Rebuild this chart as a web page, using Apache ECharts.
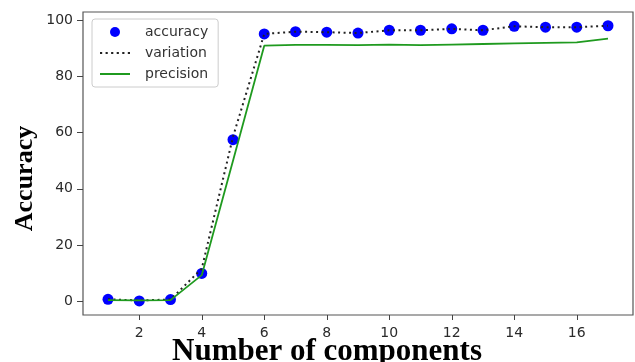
<!DOCTYPE html>
<html><head><meta charset="utf-8">
<script src="https://cdn.jsdelivr.net/npm/echarts@6/dist/echarts.min.js"></script>
<style>html,body{margin:0;padding:0;background:#fff}#c{width:635px;height:362px}</style>
</head><body><div id="c"></div>
<script>
const components = [1,2,3,4,5,6,7,8,9,10,11,12,13,14,15,16,17];
const accuracy  = [0.6,0.0,0.5,9.8,57.5,95.2,96.0,95.8,95.5,96.5,96.5,97.0,96.5,97.9,97.6,97.6,98.1];
const variation = [0.6,0.2,0.5,11.5,58.5,95.2,96.0,95.8,95.5,96.5,96.5,97.0,96.5,97.9,97.6,97.6,98.1];
const precision = [0.3,0.2,0.3,9.2,50.0,91.0,91.3,91.3,91.2,91.4,91.2,91.4,91.6,91.8,92.0,92.2,93.5];
const xTicks = [2,4,6,8,10,12,14,16];
const yTicks = [0,20,40,60,80,100];

const pair = a => components.map((x,i)=>[x,a[i]]);
const chart = echarts.init(document.getElementById('c'));
const tickFont = {fontFamily:'DejaVu Sans', fontSize:14, color:'#2a2a2a'};
let dots = '';
for (let i = 0; i < 6; i++) dots += 'M' + (i*5.6) + ',4h2.2v2.2h-2.2z';
chart.setOption({
  animation:false,
  grid:{left:83,right:2,top:12,bottom:47,containLabel:false,outerBoundsMode:'none',
    show:true,borderColor:'#555',borderWidth:1.2,backgroundColor:'transparent'},
  legend:{
    orient:'vertical', left:92, top:19, itemWidth:30, itemHeight:10, itemGap:7,
    padding:[6,10,6,8], borderColor:'#ccc', borderWidth:1, borderRadius:3, backgroundColor:'#fff',
    textStyle:{fontFamily:'DejaVu Sans', fontSize:14, color:'#333', padding:[0,0,0,10]},
    data:[
      {name:'accuracy',icon:'circle',itemStyle:{color:'#0000ff'}},
      {name:'variation',icon:'path://'+dots,itemStyle:{color:'#222'}},
      {name:'precision',icon:'path://M0,4H30V6H0Z',itemStyle:{color:'#1f9a1f'}}
    ]
  },
  xAxis:{type:'value',min:0.2,max:17.8,
    axisLine:{show:false,onZero:false},splitLine:{show:false},
    axisTick:{show:true,length:5,lineStyle:{color:'#444'},customValues:xTicks},
    axisLabel:{...tickFont,margin:11,customValues:xTicks},
    name:'Number of components',nameLocation:'middle',nameGap:21,nameMoveOverlap:false,
    nameTextStyle:{fontFamily:'Liberation Serif',fontWeight:'bold',fontSize:31,color:'#000',padding:[0,62,0,0]}
  },
  yAxis:{type:'value',min:-5,max:103,
    axisLine:{show:false,onZero:false},splitLine:{show:false},
    axisTick:{show:true,length:6,lineStyle:{color:'#444'},customValues:yTicks},
    axisLabel:{...tickFont,margin:10,customValues:yTicks},
    name:'Accuracy',nameLocation:'middle',nameGap:45,nameMoveOverlap:false,
    nameTextStyle:{fontFamily:'Liberation Serif',fontWeight:'bold',fontSize:26,color:'#000',padding:[0,30,0,0]}
  },
  series:[
    {name:'accuracy',type:'scatter',data:pair(accuracy),symbol:'circle',symbolSize:11,
     itemStyle:{color:'#0000ff',opacity:1},z:2},
    {name:'variation',type:'line',data:pair(variation),symbol:'none',
     lineStyle:{color:'#222',width:2,type:[2,3.5]},itemStyle:{color:'#222'},z:3},
    {name:'precision',type:'line',data:pair(precision),symbol:'none',
     lineStyle:{color:'#1f9a1f',width:1.8},itemStyle:{color:'#1f9a1f'},z:4}
  ]
});
</script></body></html>
